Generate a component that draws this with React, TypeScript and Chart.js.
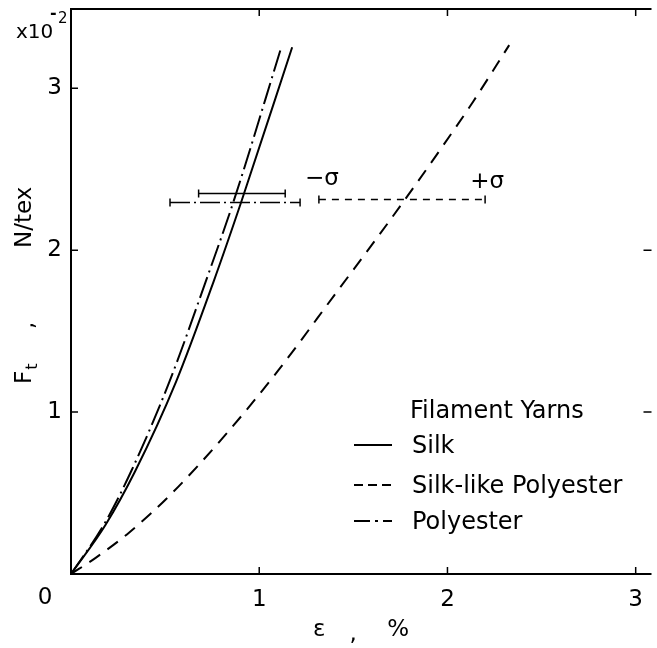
import React, { useEffect, useRef } from 'react';
import { Chart, registerables } from 'chart.js';

Chart.register(...registerables);

// axis ticks (x: strain %, y: force x10^-2 N/tex)
const xTickValues = [1, 2, 3];
const yTickValues = [1, 2, 3];
const rightTickValues = [1, 2];
const xMax = 3.084;
const yMax = 3.49;

// Silk (solid)
const silkStrain = [0, 0.183, 0.34, 0.559, 0.759, 0.907, 1.175];
const silkForce = [0, 0.303, 0.633, 1.19, 1.811, 2.307, 3.254];

// Polyester (dash-dot)
const polyStrain = [0, 0.174, 0.319, 0.524, 0.717, 0.865, 1.117];
const polyForce = [0, 0.303, 0.633, 1.191, 1.811, 2.306, 3.253];

// Silk-like Polyester (dashed)
const slpStrain = [0, 0.131, 0.308, 0.532, 0.828, 1.102, 1.413, 1.62, 1.76, 1.967, 2.137, 2.328];
const slpForce = [0, 0.1, 0.255, 0.494, 0.87, 1.259, 1.744, 2.067, 2.29, 2.63, 2.919, 3.267];

// ±σ bars (strain range at breaking force)
const silkBarForce = 2.35;
const silkBarRange = [0.678, 1.138];
const polyBarForce = 2.294;
const polyBarRange = [0.526, 1.217];
const slpBarForce = 2.314;
const slpBarRange = [1.317, 2.2];

const legendTitle = 'Filament Yarns';
const seriesNames = ['Silk', 'Silk-like Polyester', 'Polyester'];

const FONT = '"DejaVu Sans", sans-serif';
const DASH_SLP = [13, 9];
const DASH_POLY = [22, 5, 2, 5];

const toPts = (xs: number[], ys: number[]) => xs.map((v, i) => ({ x: v, y: ys[i] }));
const barPts = (r: number[], f: number) => [{ x: r[0], y: f }, { x: r[1], y: f }];

const framePlugin = {
  id: 'framePlugin',
  afterDraw(chart: any) {
    const { ctx, chartArea, scales } = chart;
    const { left, right, top, bottom } = chartArea;
    const x = scales.x;
    const y = scales.y;
    ctx.save();
    ctx.strokeStyle = '#000';
    ctx.lineWidth = 2;
    ctx.setLineDash([]);
    ctx.beginPath();
    ctx.moveTo(right, top);
    ctx.lineTo(left, top);
    ctx.lineTo(left, bottom);
    ctx.lineTo(right, bottom);
    ctx.stroke();
    ctx.lineWidth = 1.5;
    ctx.beginPath();
    xTickValues.forEach((v) => {
      const px = x.getPixelForValue(v);
      ctx.moveTo(px, bottom);
      ctx.lineTo(px, bottom - 7);
      ctx.moveTo(px, top);
      ctx.lineTo(px, top + 7);
    });
    yTickValues.forEach((v) => {
      const py = y.getPixelForValue(v);
      ctx.moveTo(left, py);
      ctx.lineTo(left + 7, py);
    });
    rightTickValues.forEach((v) => {
      const py = y.getPixelForValue(v);
      ctx.moveTo(right, py);
      ctx.lineTo(right - 8, py);
    });
    ctx.stroke();

    ctx.fillStyle = '#000';
    // origin label
    ctx.font = `23px ${FONT}`;
    ctx.textAlign = 'center';
    ctx.textBaseline = 'middle';
    ctx.fillText('0', left - 26, bottom + 24);

    // x10^-2
    ctx.textAlign = 'left';
    ctx.textBaseline = 'alphabetic';
    ctx.font = `20px ${FONT}`;
    ctx.fillText('x10', 16, 38);
    ctx.font = `bold 16px ${FONT}`;
    ctx.fillText('-', 50, 18);
    ctx.font = `15px ${FONT}`;
    ctx.fillText('2', 58, 23);

    // x title
    const cx = (left + right) / 2;
    ctx.font = `23px ${FONT}`;
    ctx.textBaseline = 'middle';
    ctx.textAlign = 'center';
    ctx.fillText('\u03b5', cx - 42, 630);
    ctx.fillText(',', cx - 8, 634);
    ctx.fillText('%', cx + 37, 630);

    // y title (rotated)
    ctx.save();
    ctx.translate(25, 384);
    ctx.rotate(-Math.PI / 2);
    ctx.textAlign = 'left';
    ctx.textBaseline = 'middle';
    ctx.font = `23px ${FONT}`;
    ctx.fillText('F', 0, 0);
    const fw = ctx.measureText('F').width;
    ctx.font = `16px ${FONT}`;
    ctx.fillText('t', fw + 1, 8);
    ctx.font = `23px ${FONT}`;
    ctx.fillText(',', 55, 2);
    ctx.fillText('N/tex', 136, 0);
    ctx.restore();

    // sigma labels
    ctx.font = `23px ${FONT}`;
    ctx.textAlign = 'center';
    ctx.textBaseline = 'middle';
    const sy = y.getPixelForValue(slpBarForce);
    ctx.fillText('\u2212\u03c3', x.getPixelForValue(slpBarRange[0]) + 3, sy - 20);
    ctx.fillText('+\u03c3', x.getPixelForValue(slpBarRange[1]) + 2, sy - 17);

    // legend
    ctx.textAlign = 'left';
    ctx.font = `24px ${FONT}`;
    ctx.fillText(legendTitle, 410, 412);
    const rows = [
      { name: seriesNames[0], dash: [] as number[], y: 447 },
      { name: seriesNames[1], dash: [9, 5], y: 487 },
      { name: seriesNames[2], dash: [16, 5, 3, 5], y: 523 },
    ];
    rows.forEach((r) => {
      ctx.fillText(r.name, 412, r.y);
      ctx.save();
      ctx.lineWidth = 2;
      ctx.setLineDash(r.dash);
      ctx.beginPath();
      ctx.moveTo(354, r.y - 2);
      ctx.lineTo(392, r.y - 2);
      ctx.stroke();
      ctx.restore();
    });
    ctx.restore();
  },
};

export default function App() {
  const ref = useRef<HTMLCanvasElement | null>(null);

  useEffect(() => {
    document.body.style.margin = '0';
    const canvas = ref.current;
    if (!canvas) return;
    const barStyle = {
      showLine: true,
      borderColor: '#000',
      borderWidth: 1.5,
      pointStyle: 'line',
      rotation: 90,
      pointRadius: 4,
      pointHoverRadius: 4,
      pointBorderWidth: 1.5,
      pointBorderColor: '#000',
      fill: false,
    };
    const chart = new Chart(canvas, {
      type: 'scatter',
      data: {
        datasets: [
          {
            label: seriesNames[0],
            data: toPts(silkStrain, silkForce),
            showLine: true,
            borderColor: '#000',
            borderWidth: 2,
            pointRadius: 0,
            cubicInterpolationMode: 'monotone',
            fill: false,
          },
          {
            label: seriesNames[1],
            data: toPts(slpStrain, slpForce),
            showLine: true,
            borderColor: '#000',
            borderWidth: 2,
            borderDash: DASH_SLP,
            pointRadius: 0,
            cubicInterpolationMode: 'monotone',
            fill: false,
          },
          {
            label: seriesNames[2],
            data: toPts(polyStrain, polyForce),
            showLine: true,
            borderColor: '#000',
            borderWidth: 2,
            borderDash: DASH_POLY,
            pointRadius: 0,
            cubicInterpolationMode: 'monotone',
            fill: false,
          },
          { label: 'silk σ', data: barPts(silkBarRange, silkBarForce), ...barStyle },
          { label: 'poly σ', data: barPts(polyBarRange, polyBarForce), ...barStyle, borderDash: [20, 4, 2, 4] },
          { label: 'slp σ', data: barPts(slpBarRange, slpBarForce), ...barStyle, borderDash: [7, 6] },
        ] as any,
      },
      options: {
        responsive: false,
        animation: false,
        events: [],
        layout: { padding: { top: 9, right: 0, left: 0, bottom: 0 } },
        plugins: { legend: { display: false }, tooltip: { enabled: false }, title: { display: false } },
        scales: {
          x: {
            type: 'linear',
            min: 0,
            max: xMax,
            grid: { display: false, drawTicks: false },
            border: { display: false },
            ticks: {
              stepSize: 1,
              includeBounds: false,
              padding: 12,
              color: '#000',
              font: { family: FONT, size: 23 },
              maxRotation: 0,
              callback: (v: any) => (v === 0 ? '' : String(v)),
            },
            afterFit: (s: any) => {
              s.height = 74;
              s.paddingLeft = 0;
              s.paddingRight = 0;
            },
          },
          y: {
            type: 'linear',
            min: 0,
            max: yMax,
            grid: { display: false, drawTicks: false },
            border: { display: false },
            ticks: {
              stepSize: 1,
              includeBounds: false,
              padding: 9,
              color: '#000',
              font: { family: FONT, size: 23 },
              callback: (v: any) => (v === 0 ? '' : String(v)),
            },
            afterFit: (s: any) => {
              s.width = 71;
              s.paddingTop = 0;
              s.paddingBottom = 0;
            },
          },
        },
      } as any,
      plugins: [framePlugin],
    });
    return () => chart.destroy();
  }, []);

  return (
    <div style={{ width: 657, height: 648, background: '#fff' }}>
      <canvas ref={ref} width={657} height={648} style={{ display: 'block' }} />
    </div>
  );
}
